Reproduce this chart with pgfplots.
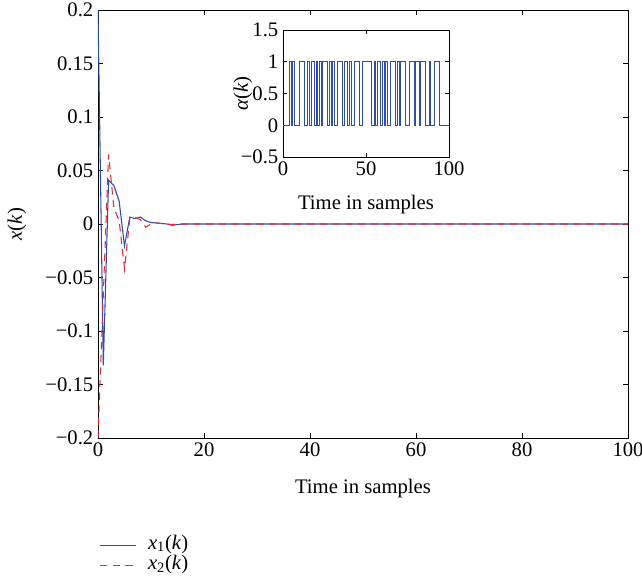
\documentclass[border=0pt]{standalone}
\usepackage{fontspec}
\setmainfont{Liberation Serif}
\usepackage{pgfplots}
\usepackage{pgfplotstable}
\pgfplotsset{compat=1.18}
\definecolor{myblue}{RGB}{45,75,180}
\definecolor{myred}{RGB}{235,40,50}

\pgfplotstableread{
k x1 x2
0 0.2 -0.2
1 -0.132 -0.066
2 0.041 0.065
3 0.036 0.015
4 0.021 0.003
5 -0.0205 -0.042
6 0.0065 0.005
7 0.005 0.006
8 0.0065 0.004
9 0.003 -0.003
10 0.0013 0.0
11 0.001 0.001
12 0.0005 0.0005
13 0.0 0.0
14 -0.0012 -0.0005
15 -0.0005 0.0
16 0.0 0.0
20 0.0 0.0
100 0.0 0.0
}\xdata

\pgfplotstableread{
k a
0 0
1 0
2 0
3 0
4 1
5 0
6 1
7 0
8 0
9 0
10 1
11 1
12 1
13 0
14 0
15 1
16 0
17 1
18 1
19 0
20 1
21 0
22 1
23 0
24 1
25 1
26 1
27 0
28 1
29 0
30 1
31 0
32 0
33 1
34 1
35 1
36 0
37 1
38 1
39 0
40 1
41 0
42 0
43 1
44 1
45 1
46 0
47 0
48 1
49 1
50 1
51 1
52 1
53 0
54 0
55 1
56 0
57 1
58 1
59 0
60 1
61 0
62 1
63 0
64 0
65 1
66 1
67 1
68 0
69 1
70 0
71 1
72 1
73 1
74 0
75 0
76 1
77 1
78 1
79 0
80 1
81 1
82 0
83 1
84 1
85 1
86 0
87 0
88 1
89 0
90 0
91 1
92 1
93 1
94 0
95 0
96 0
97 0
98 0
99 0
100 0
}\adata

\begin{document}
\begin{tikzpicture}[font=\fontsize{15.5}{17}\selectfont]
\useasboundingbox (-73.5pt,-105pt) rectangle (408pt,328.5pt);
\begin{axis}[
  at={(0,0)}, anchor=south west,
  scale only axis, width=397.5pt, height=321pt,
  xmin=0, xmax=100, ymin=-0.2, ymax=0.2,
  xtick={0,20,40,60,80,100},
  xticklabels={0,20,40,60,80,100},
  ytick={-0.2,-0.15,-0.1,-0.05,0,0.05,0.1,0.15,0.2},
  yticklabels={−0.2,−0.15,−0.1,−0.05,0,0.05,0.1,0.15,0.2},
  tick align=inside, major tick length=4pt,
  tick style={black, line width=0.5pt},
  axis line style={black, line width=0.6pt},
  xlabel={Time in samples},
  ylabel={\textit{x}(\textit{k})},
  xlabel style={at={(axis description cs:0.5,-0.117)}, anchor=center},
  ylabel style={at={(axis description cs:-0.153,0.5)}, anchor=center},
  legend style={at={(-0.005,-0.223)}, anchor=north west, draw=none, fill=none,
    legend cell align=left, row sep=2.5pt,
    nodes={inner sep=0.5pt, text height=9pt, text depth=3pt},
    /tikz/every odd column/.append style={column sep=8pt}},
  legend image code/.code={\draw[#1] (0pt,0pt) -- (27pt,0pt);},
]
\addplot[myblue, line width=0.8pt] table[x=k, y=x1] {\xdata};
\addlegendentry{\textit{x}\textsubscript{1}(\textit{k})}
\addplot[myred, line width=0.8pt, dash pattern=on 5.5pt off 4pt] table[x=k, y=x2] {\xdata};
\addlegendentry{\textit{x}\textsubscript{2}(\textit{k})}
\end{axis}
\begin{axis}[
  at={(138.75pt,210.75pt)}, anchor=south west,
  scale only axis, width=124.5pt, height=95.25pt,
  axis background/.style={fill=white},
  xmin=0, xmax=100, ymin=-0.5, ymax=1.5,
  xtick={0,50,100}, xticklabels={0,50,100},
  ytick={-0.5,0,0.5,1,1.5}, yticklabels={−0.5,0,0.5,1,1.5},
  tick align=inside, major tick length=3pt,
  tick style={black, line width=0.5pt},
  axis line style={black, line width=0.6pt},
  xlabel={Time in samples},
  ylabel={\textit{α}(\textit{k})},
  xlabel style={at={(axis description cs:0.5,-0.378)}, anchor=center},
  ylabel style={at={(axis description cs:-0.241,0.5)}, anchor=center},
]
\addplot[myblue, line width=0.7pt, const plot] table[x=k, y=a] {\adata};
\end{axis}
\end{tikzpicture}
\end{document}
